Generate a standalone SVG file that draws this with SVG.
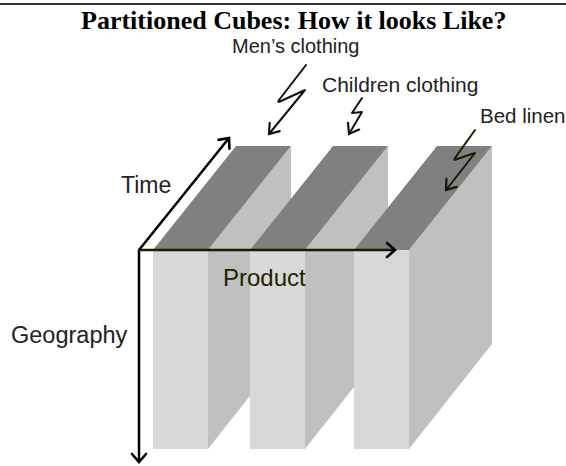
<svg xmlns="http://www.w3.org/2000/svg" width="566" height="466" viewBox="0 0 566 466">
<defs>
<style>
.lbl{font-family:"Liberation Sans",Arial,sans-serif;fill:#222;}
.title{font-family:"Liberation Serif","Times New Roman",serif;font-weight:bold;font-size:26px;fill:#000;}
.front{fill:#d8d8d8;}
.side{fill:#c0c0c0;}
.top{fill:#808080;}
.axis{stroke:#000;stroke-width:2.5;fill:none;}
.zz{stroke:#111;stroke-width:2;fill:none;stroke-linejoin:round;stroke-linecap:round;}
</style>
<marker id="ah" viewBox="0 0 20 20" refX="10" refY="10" markerWidth="20" markerHeight="20" markerUnits="userSpaceOnUse" orient="auto" overflow="visible">
<path d="M2,3 L10,10 L2,17" fill="none" stroke="#000" stroke-width="2.6" stroke-linecap="round" stroke-linejoin="miter"/>
</marker>
<marker id="ah2" viewBox="0 0 20 20" refX="10" refY="10" markerWidth="20" markerHeight="20" markerUnits="userSpaceOnUse" orient="auto" overflow="visible">
<path d="M1,3.5 L10,10 L1,16.5" fill="none" stroke="#111" stroke-width="2.2" stroke-linecap="round"/>
</marker>
</defs>
<rect width="566" height="466" fill="#fff"/>
<line x1="0" y1="4" x2="566" y2="4" stroke="#333" stroke-width="2"/>
<text class="title" x="81" y="28.5">Partitioned Cubes: How it looks Like?</text>

<g id="slab-mens">
<polygon class="front" points="153,250 208,250 208,449 153,449"/>
<polygon class="side" points="208,250 291,146 291,344 208,449"/>
<polygon class="top" points="153,250 208,250 291,146 236,146"/>
</g>
<g id="slab-children">
<polygon class="front" points="250,250 305,250 305,449 250,449"/>
<polygon class="side" points="305,250 388,146 388,344 305,449"/>
<polygon class="top" points="250,250 305,250 388,146 333,146"/>
</g>
<g id="slab-bed">
<polygon class="front" points="354,250 409,250 409,449 354,449"/>
<polygon class="side" points="409,250 492,146 492,344 409,449"/>
<polygon class="top" points="354,250 409,250 492,146 437,146"/>
</g>

<g id="connectors">
<line class="axis" x1="139" y1="250" x2="229" y2="138" marker-end="url(#ah)"/>
<line class="axis" x1="139" y1="249" x2="139" y2="462" marker-end="url(#ah)"/>
<line class="axis" x1="138" y1="250" x2="395" y2="250" marker-end="url(#ah)" style="stroke:#1a1a00"/>
<path class="zz" d="M306,65 L279,100 Q277,103 281,101 L305,90 L269,134" marker-end="url(#ah2)"/>
<path class="zz" d="M362,98 L352,113 L362,112 L349,134" marker-end="url(#ah2)"/>
<path class="zz" d="M475,130 L455,158 Q453,161 457,159 L475,153 L446,190" marker-end="url(#ah2)" style="stroke:#1a1a00"/>
</g>

<g id="labels">
<text class="lbl" x="232" y="53" font-size="20">Men’s clothing</text>
<text class="lbl" x="322" y="92" font-size="21">Children clothing</text>
<text class="lbl" x="480" y="123" font-size="20.5">Bed linen</text>
<text class="lbl" x="121" y="193" font-size="23">Time</text>
<text class="lbl" x="223" y="286" font-size="24" style="fill:#222200">Product</text>
<text class="lbl" x="11" y="343" font-size="23.5">Geography</text>
</g>
</svg>
